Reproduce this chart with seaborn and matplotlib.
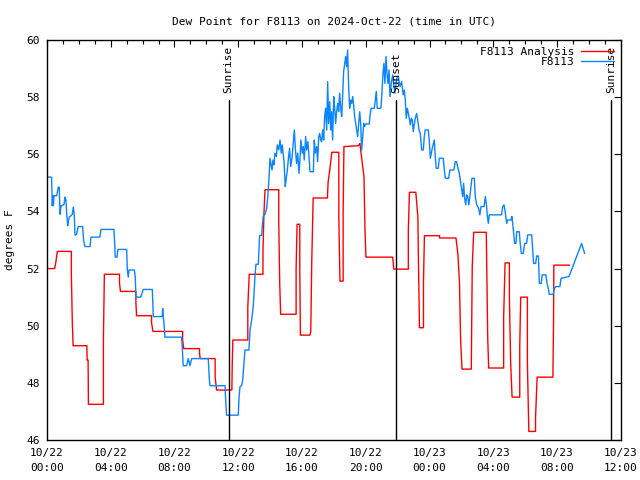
import matplotlib
matplotlib.use("Agg")
import matplotlib.pyplot as plt
import seaborn as sns
import pandas as pd
from matplotlib.ticker import MultipleLocator

# hours since 2024-10-22 00:00 UTC
analysis_hours = [
    0.0, 0.48, 0.55, 0.65, 1.53, 1.53, 1.59, 1.64, 2.5, 2.52, 2.58, 2.6,
    3.54, 3.54, 3.6, 4.55, 4.55, 4.61, 5.58, 5.58, 5.62, 6.56, 6.56, 6.65,
    8.51, 8.51, 8.58, 9.57, 9.57, 9.61, 10.55, 10.55, 10.64, 11.6, 11.62, 11.66,
    12.6, 12.6, 12.69, 13.55, 13.55, 13.61, 13.68, 14.54, 14.54, 14.6, 14.66,
    15.63, 15.63, 15.69, 15.86, 15.86, 15.9, 16.5, 16.55, 16.61, 16.7,
    17.6, 17.6, 17.64, 17.73, 17.87, 18.31, 18.31, 18.38, 18.58, 18.58, 18.63,
    19.53, 19.63, 19.89, 19.95, 20.01, 21.69, 21.76, 22.67, 22.67, 22.74,
    23.14, 23.27, 23.3, 23.35, 23.37, 23.62, 23.62, 23.68, 24.63, 24.63,
    25.66, 25.78, 25.88, 25.95, 26.04, 26.62, 26.68, 26.77, 27.56, 27.65, 27.71,
    28.65, 28.65, 28.74, 29.01, 29.01, 29.09, 29.18, 29.66, 29.66, 29.72,
    30.14, 30.14, 30.23, 30.65, 30.65, 30.75, 31.74, 31.78, 31.8, 32.79,
]
analysis_values = [
    52.0, 52.0, 52.2, 52.6, 52.6, 51.8, 50.1, 49.3, 49.3, 48.8, 48.8, 47.25,
    47.25, 49.5, 51.8, 51.8, 51.5, 51.2, 51.2, 50.8, 50.35, 50.35, 50.1, 49.8,
    49.8, 49.5, 49.2, 49.2, 49.05, 48.85, 48.85, 48.2, 47.75, 47.75, 48.6, 49.5,
    49.5, 50.67, 51.8, 51.8, 52.6, 53.9, 54.76, 54.76, 53.67, 51.5, 50.4,
    50.4, 52.0, 53.55, 53.55, 51.95, 49.67, 49.67, 49.8, 52.2, 54.47,
    54.47, 54.57, 55.04, 55.4, 56.07, 56.07, 53.8, 51.56, 51.56, 53.95, 56.27,
    56.3, 56.38, 55.2, 53.35, 52.4, 52.4, 51.98, 51.98, 53.35, 54.67,
    54.67, 53.8, 52.4, 50.7, 49.93, 49.93, 51.54, 53.15, 53.15, 53.07,
    53.07, 52.5, 51.5, 49.5, 48.48, 48.48, 52.07, 53.27, 53.27, 49.6, 48.52,
    48.52, 50.3, 52.2, 52.2, 51.0, 48.7, 47.5, 47.5, 49.27, 51.0,
    51.0, 48.7, 46.3, 46.3, 46.77, 48.2, 48.2, 50.14, 52.12, 52.12,
]

obs_hours = [
    0.0, 0.29, 0.33, 0.38, 0.40, 0.44, 0.61, 0.71, 0.77, 0.82, 0.88, 0.92,
    1.07, 1.13, 1.19, 1.24, 1.30, 1.34, 1.40, 1.51, 1.59, 1.65, 1.71, 1.76,
    1.86, 1.96, 2.24, 2.30, 2.38, 2.70, 2.76, 3.32, 3.39, 4.20, 4.25, 4.28,
    4.39, 4.45, 5.0, 5.04, 5.10, 5.14, 5.48, 5.54, 5.58, 5.88, 5.94, 6.04,
    6.61, 6.67, 7.23, 7.26, 7.30, 7.34, 7.40, 8.45, 8.51, 8.55, 8.76, 8.86,
    8.97, 9.08, 10.12, 10.18, 10.23, 11.17, 11.21, 11.27, 12.0, 12.05, 12.11,
    12.21, 12.28, 12.36, 12.42, 12.67, 12.74, 12.84, 12.94, 13.05, 13.11,
    13.26, 13.30, 13.34, 13.47, 13.51, 13.57, 13.68, 13.78, 13.85, 13.91,
    13.95, 13.99,
    14.05, 14.12, 14.18, 14.24, 14.30, 14.39, 14.45, 14.54, 14.62, 14.70,
    14.76, 14.87, 14.95, 15.01, 15.08, 15.16, 15.22, 15.29, 15.37, 15.43,
    15.52, 15.58, 15.66, 15.73, 15.81, 15.87, 15.93, 16.02, 16.08, 16.14,
    16.23, 16.29, 16.37, 16.44, 16.50, 16.71, 16.77, 16.83, 16.92, 16.98,
    17.05, 17.11, 17.17, 17.23, 17.30, 17.36, 17.42, 17.48, 17.55, 17.61,
    17.67, 17.74, 17.80, 17.86, 17.92, 17.99, 18.05, 18.11, 18.17, 18.24,
    18.30, 18.36, 18.43, 18.49, 18.55, 18.61, 18.68, 18.74, 18.80, 18.86,
    18.93, 18.99, 19.05, 19.12, 19.18, 19.24, 19.30, 19.37, 19.43, 19.49,
    19.56, 19.62, 19.68, 19.74, 19.81, 19.87, 19.93, 19.99, 20.22, 20.26,
    20.33, 20.53, 20.60, 20.66, 20.72, 20.95, 21.02, 21.08, 21.14, 21.20,
    21.27, 21.33, 21.39, 21.46, 21.52, 21.60, 21.69, 21.77, 21.83, 21.94,
    22.04, 22.15, 22.25, 22.35, 22.42, 22.48, 22.54, 22.61, 22.67, 22.73,
    22.79, 22.86, 22.92, 22.98, 23.04, 23.11, 23.19, 23.26, 23.34, 23.42,
    23.51, 23.61, 23.67, 23.73, 23.92, 23.98, 24.05, 24.11, 24.17, 24.30,
    24.36, 24.42, 24.55, 24.61, 24.86, 24.93, 24.99, 25.20, 25.28, 25.53,
    25.61, 25.70, 25.76, 25.87, 25.99, 26.08, 26.14, 26.20, 26.27, 26.33,
    26.39, 26.47, 26.54, 26.60, 26.66, 26.81, 26.87, 26.96, 27.08, 27.16,
    27.23, 27.42, 27.50, 27.56, 27.62, 27.69, 27.75, 28.52, 28.59, 28.67,
    28.73, 28.84, 28.90, 29.11, 29.17, 29.26, 29.34, 29.42, 29.47, 29.63,
    29.69, 29.76, 29.88, 29.97, 30.09, 30.16, 30.41, 30.47, 30.53, 30.66,
    30.72, 30.83, 30.89, 31.01, 31.07, 31.30, 31.37, 31.45, 31.51, 31.76,
    31.83, 31.93, 32.18, 32.25, 32.75, 33.54, 33.73,
]
obs_values = [
    55.2, 55.2, 54.2, 54.55, 54.2, 54.55, 54.55, 54.85, 54.85, 53.9, 54.2, 54.2,
    54.25, 54.5, 54.4, 53.9, 53.5, 53.65, 53.8, 53.85, 53.9, 54.15, 53.9, 53.17,
    53.2, 53.47, 53.47, 52.98, 52.77, 52.77, 53.1, 53.1, 53.37, 53.37, 52.88, 52.4,
    52.4, 52.67, 52.67, 51.95, 51.7, 51.95, 51.95, 51.7, 51.0, 51.0, 51.1, 51.27,
    51.27, 50.32, 50.32, 50.6, 50.3, 50.1, 49.6, 49.6, 48.97, 48.6, 48.6, 48.85,
    48.6, 48.85, 48.85, 48.16, 47.9, 47.9, 47.4, 46.87, 46.87, 47.5, 47.87,
    47.9, 48.1, 48.68, 49.15, 49.15, 49.85, 50.2, 50.67, 51.72, 52.15,
    52.15, 52.65, 53.16, 53.16, 53.5, 53.84, 53.9, 54.1, 54.5, 55.0,
    55.36, 55.86,
    55.68, 55.45, 55.8, 55.63, 56.04, 55.92, 56.33, 56.15, 56.5, 56.04,
    56.33, 55.74, 54.87, 55.16, 55.45, 55.92, 56.21, 55.57, 55.86, 56.27,
    56.85, 56.21, 55.68, 56.04, 55.33, 55.8, 56.5, 56.04, 56.27, 55.8,
    56.62, 56.15, 56.44, 55.92, 55.39, 55.39, 56.5, 56.04, 56.27, 55.74,
    56.62, 56.73, 56.5, 56.44, 56.85, 56.5, 57.32, 57.61, 56.85, 58.54,
    57.08, 57.84, 56.85, 57.49, 56.5, 58.02, 57.61, 57.08, 57.49, 57.78,
    57.49, 58.14, 57.61, 57.32, 58.02, 58.89, 59.18, 59.42, 59.07, 59.65,
    58.31, 57.61, 57.9, 57.78, 58.02, 57.73, 57.32, 57.08, 56.85, 56.62,
    57.08, 57.49, 57.08, 56.15, 56.62, 57.08, 56.97, 57.06, 57.06, 57.32,
    57.61, 57.61, 57.9, 58.2, 57.61, 57.61, 58.2, 58.83, 59.18, 58.48,
    59.42, 58.83, 58.48, 58.95, 58.02, 58.48, 58.78, 58.37, 58.14, 58.66,
    58.72, 58.37, 58.54, 58.08, 58.25, 57.9, 57.26, 57.61, 57.43, 57.26,
    57.03, 57.26, 57.2, 56.79, 57.03, 57.26, 57.43, 57.2, 56.85, 56.73,
    56.15, 56.15, 56.62, 56.85, 56.85, 56.5, 55.86, 56.04, 56.21, 56.5,
    55.92, 55.51, 55.51, 55.86, 55.86, 55.45, 55.16, 55.16, 55.45, 55.45,
    55.74, 55.74, 55.57, 55.33, 54.87, 54.52, 54.98, 54.46, 54.23, 54.58,
    54.52, 54.23, 54.58, 54.87, 55.16, 55.16, 54.52, 54.23, 54.11, 53.88,
    54.17, 54.17, 54.52, 54.29, 53.88, 53.58, 53.88, 53.88, 54.17, 54.23,
    54.05, 53.58, 53.7, 53.7, 53.82, 53.35, 52.88, 52.88, 53.29, 53.29,
    52.88, 52.53, 52.53, 52.88, 52.88, 53.18, 53.18, 52.65, 52.18, 52.18,
    52.44, 52.44, 51.48, 51.48, 51.78, 51.78, 51.48, 51.31, 51.1, 51.1,
    51.31, 51.37, 51.37, 51.66, 51.72, 52.88, 52.53,
]

sun_events = [11.39, 21.9, 35.38]
sun_labels = ["Sunrise", "Sunset", "Sunrise"]

tick_hours = list(range(0, 37, 4))
tick_labels = ["10/22\n00:00", "10/22\n04:00", "10/22\n08:00", "10/22\n12:00",
               "10/22\n16:00", "10/22\n20:00", "10/23\n00:00", "10/23\n04:00",
               "10/23\n08:00", "10/23\n12:00"]

analysis = pd.DataFrame({"hour": analysis_hours, "dewpoint": analysis_values})
obs = pd.DataFrame({"hour": obs_hours, "dewpoint": obs_values})

sns.set_style("white")
plt.rcParams["font.family"] = ["DejaVu Sans Mono"]
plt.rcParams["font.size"] = 8
plt.rcParams["text.color"] = "black"
plt.rcParams["axes.labelcolor"] = "black"
plt.rcParams["xtick.color"] = "black"
plt.rcParams["ytick.color"] = "black"

fig = plt.figure(figsize=(6.4, 4.8), dpi=100)
ax = fig.add_axes([0.0734, 0.0833, 0.8966, 0.8334])

sns.lineplot(data=analysis, x="hour", y="dewpoint", sort=False, estimator=None,
             color="#ff0000", linewidth=1, label="F8113 Analysis", ax=ax)
sns.lineplot(data=obs, x="hour", y="dewpoint", sort=False, estimator=None,
             color="#0a84ff", linewidth=1, label="F8113", ax=ax)

for h, lab in zip(sun_events, sun_labels):
    ax.plot([h, h], [46, 57.9], color="black", linewidth=1)
    ax.text(h, 58.15, lab, rotation=90, ha="center", va="bottom", fontsize=8)

ax.set_xlim(0, 36)
ax.set_ylim(46, 60)
ax.set_xticks(tick_hours)
ax.set_xticklabels(tick_labels, linespacing=1.6)
ax.xaxis.set_minor_locator(MultipleLocator(1))
ax.set_yticks(range(46, 61, 2))
ax.tick_params(which="both", direction="in", top=True, right=True, color="black",
               labelsize=8)
ax.tick_params(axis="x", pad=6)
ax.tick_params(axis="y", pad=5)
ax.tick_params(which="major", length=5, width=0.8)
ax.tick_params(which="minor", length=3, width=0.8)
for s in ax.spines.values():
    s.set_color("black")
    s.set_linewidth(1)

ax.set_xlabel("")
ax.set_ylabel("degrees F", fontsize=8, labelpad=8)
ax.set_title("Dew Point for F8113 on 2024-Oct-22 (time in UTC)", fontsize=8, pad=11)
ax.legend(loc="upper right", frameon=False, markerfirst=False, fontsize=8,
          handlelength=3, handletextpad=0.6, labelspacing=0.05,
          borderaxespad=0.2)

fig.savefig("out.png", dpi=100)
